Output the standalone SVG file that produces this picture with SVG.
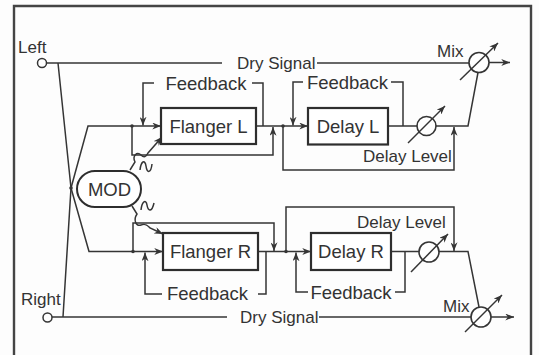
<svg xmlns="http://www.w3.org/2000/svg" width="539" height="355" viewBox="0 0 539 355">
<style>
.ln{fill:none;stroke:#353535;stroke-width:1.5;stroke-linejoin:miter}
.ar{marker-end:url(#ah)}
.blk{fill:#fff;stroke:#2e2e2e;stroke-width:2.2}
.knob{fill:#fff;stroke:#353535;stroke-width:1.6}
.t{font-family:"Liberation Sans",Arial,sans-serif;fill:#333;font-size:17px}
.tb{font-family:"Liberation Sans",Arial,sans-serif;fill:#333;font-size:18.5px}
.dot{fill:#353535}
</style>
<defs>
<marker id="ah" viewBox="0 0 10 8" refX="10" refY="4" markerWidth="9" markerHeight="7" markerUnits="userSpaceOnUse" orient="auto">
<path d="M0,0 L10,4 L0,8 L3,4 z" fill="#353535"/>
</marker>
</defs>
<rect x="0" y="0" width="539" height="355" fill="#fdfdfd"/>
<path d="M14,358 V6 H531 V358" fill="none" stroke="#444" stroke-width="2.4"/>

<g id="connectors">
<path class="ln" d="M46.5,63 H222"/>
<path class="ln" d="M317,63 H478"/>
<path class="ln ar" d="M489,62.5 H510"/>
<path class="ln" d="M58,63 L71,188 L63,317"/>
<path class="ln ar" d="M71,188 L88,126 H161"/>
<path class="ln ar" d="M71,188 L89,251.5 H163"/>
<path class="ln ar" d="M132,126 V155 H273 V127"/>
<path class="ln" d="M263,126 V83 H252"/>
<path class="ln ar" d="M154,83 H143 V125.5"/>
<path class="ln ar" d="M256,126 H308"/>
<path class="ln ar" d="M283,126 V170 H454 V127"/>
<path class="ln" d="M403,126 V82 H391"/>
<path class="ln ar" d="M303,82 H293 V125.5"/>
<path class="ln" d="M388,126 H468 L478,72.5"/>
<path class="ln ar" d="M133,251.5 V223 H274 V251"/>
<path class="ln" d="M266,251.5 V294 H258"/>
<path class="ln ar" d="M162,294 H145 V252.5"/>
<path class="ln ar" d="M258,251.5 H311"/>
<path class="ln ar" d="M286,251.5 V207 H454 V251"/>
<path class="ln" d="M405,251.5 V292 H395"/>
<path class="ln ar" d="M308,292 H296 V252.5"/>
<path class="ln" d="M391,251.5 H468 L479,307"/>
<path class="ln" d="M52,317 H227"/>
<path class="ln" d="M319,317 H481"/>
<path class="ln ar" d="M491,317 H514"/>
<path class="ln ar" d="M130,170 L135,162 C132,156 137,151 141,155 C144,158 146,157 148,153 L162,137"/>
<path class="ln ar" d="M132,206 L137,214 C133,220 136,227 141,225 C146,223 148,226 150,228 L163,234"/>
<circle class="dot" cx="71" cy="188" r="1.8"/>
<circle class="dot" cx="132" cy="126" r="1.8"/>
<circle class="dot" cx="283" cy="126" r="1.8"/>
<circle class="dot" cx="133" cy="251.5" r="1.8"/>
<circle class="dot" cx="286" cy="251.5" r="1.8"/>
</g>

<g id="left-in">
<circle cx="42" cy="63" r="4.5" fill="#fff" stroke="#353535" stroke-width="1.5"/>
<text class="t" x="18" y="53">Left</text>
</g>
<g id="right-in">
<circle cx="47.5" cy="317.5" r="4.5" fill="#fff" stroke="#353535" stroke-width="1.5"/>
<text class="t" x="21" y="305">Right</text>
</g>
<g id="dry-labels">
<text class="t" x="237" y="68.5">Dry Signal</text>
<text class="t" x="240" y="322.5">Dry Signal</text>
</g>
<g id="mod">
<rect x="77" y="171" width="64" height="36" rx="18" fill="#fff" stroke="#2e2e2e" stroke-width="2"/>
<text class="tb" x="109.5" y="195.5" text-anchor="middle">MOD</text>
<path class="ln" d="M140,170 C141,161 145,159 146,166 C147,174 151,173 152,164"/>
<path class="ln" d="M141,210 C142,201 146,199 147,205 C148,212 152,212 154,203"/>
</g>
<g id="flanger-l">
<rect class="blk" x="161" y="108" width="95" height="36"/>
<text class="tb" x="208.5" y="132.5" text-anchor="middle">Flanger L</text>
<text class="tb" x="206" y="89.5" text-anchor="middle">Feedback</text>
</g>
<g id="delay-l">
<rect class="blk" x="308" y="108" width="80" height="36.5"/>
<text class="tb" x="348" y="132.5" text-anchor="middle">Delay L</text>
<text class="tb" x="347.5" y="88.5" text-anchor="middle">Feedback</text>
</g>
<g id="level-l">
<circle class="knob" cx="426.5" cy="126" r="9.5"/>
<path class="ln ar" d="M408,143 L445,106"/>
<text class="t" x="363" y="162" font-size="16.7">Delay Level</text>
</g>
<g id="mix-l">
<circle class="knob" cx="479" cy="62.5" r="10"/>
<path class="ln ar" d="M460,80 L498,43"/>
<text class="t" x="437" y="57" font-size="16.5">Mix</text>
</g>
<g id="flanger-r">
<rect class="blk" x="163" y="233" width="95" height="37"/>
<text class="tb" x="210.5" y="258" text-anchor="middle">Flanger R</text>
<text class="tb" x="207.5" y="300" text-anchor="middle">Feedback</text>
</g>
<g id="delay-r">
<rect class="blk" x="311" y="233" width="80" height="37"/>
<text class="tb" x="351" y="258" text-anchor="middle">Delay R</text>
<text class="tb" x="351" y="298.5" text-anchor="middle">Feedback</text>
</g>
<g id="level-r">
<circle class="knob" cx="429" cy="252" r="10"/>
<path class="ln ar" d="M411,272 L448,234"/>
<text class="t" x="357" y="228" font-size="16.7">Delay Level</text>
</g>
<g id="mix-r">
<circle class="knob" cx="481" cy="317" r="10"/>
<path class="ln ar" d="M465,332 L502,295"/>
<text class="t" x="443" y="312" font-size="16.5">Mix</text>
</g>
</svg>
